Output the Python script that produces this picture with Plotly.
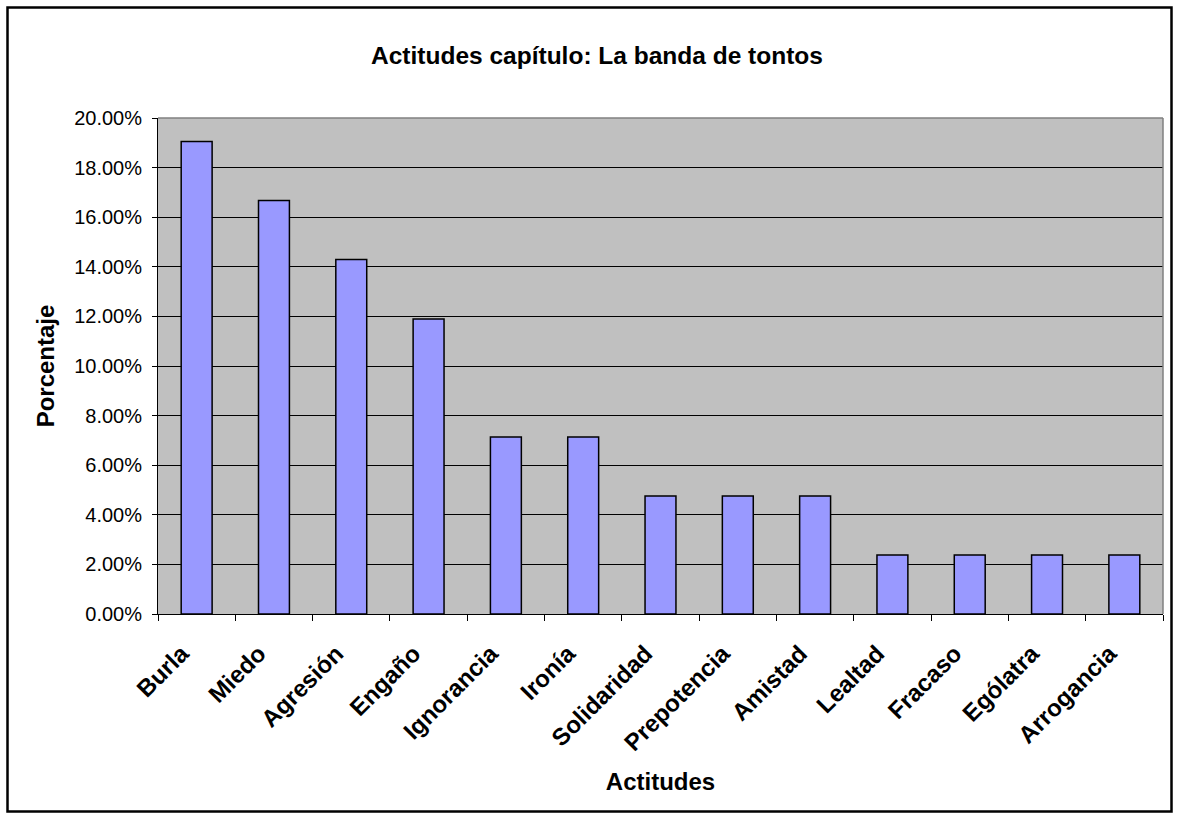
import plotly.graph_objects as go

# Attitude categories and their share of mentions
actitudes = ["Burla", "Miedo", "Agresión", "Engaño", "Ignorancia", "Ironía",
             "Solidaridad", "Prepotencia", "Amistad", "Lealtad", "Fracaso",
             "Ególatra", "Arrogancia"]
porcentajes = [0.1905, 0.1667, 0.1429, 0.1190, 0.0714, 0.0714,
               0.0476, 0.0476, 0.0476, 0.0238, 0.0238, 0.0238, 0.0238]
y_ticks = [0.0, 0.02, 0.04, 0.06, 0.08, 0.10, 0.12, 0.14, 0.16, 0.18, 0.20]

FONT = "Arial, Liberation Sans, sans-serif"

W, H = 1179, 820
L, R, T, B = 158, 16, 118, 206
pw, ph = W - L - R, H - T - B


def px_x(x):
    return (x - L) / pw


def px_y(y):
    return (H - B - y) / ph


fig = go.Figure(
    go.Bar(
        x=actitudes,
        y=porcentajes,
        marker=dict(color="#9999FF", line=dict(color="black", width=1.5)),
        width=0.4,
    )
)

fig.update_layout(
    width=W,
    height=H,
    margin=dict(l=L, r=R, t=T, b=B),
    paper_bgcolor="white",
    plot_bgcolor="#C0C0C0",
    showlegend=False,
    font=dict(family=FONT, color="black"),
    title=dict(
        text="<b>Actitudes capítulo: La banda de tontos</b>",
        x=597 / W,
        xref="container",
        xanchor="center",
        y=1 - 55 / H,
        yref="container",
        yanchor="middle",
        font=dict(size=24.5, family=FONT, color="black"),
    ),
    bargap=0.6,
)

fig.update_xaxes(
    type="category",
    showgrid=False,
    showline=True,
    linecolor="black",
    linewidth=1,
    ticks="outside",
    tickson="boundaries",
    ticklen=6,
    tickcolor="black",
    tickangle=-45,
    ticklabelstandoff=15,
    ticklabelshift=-15,
    tickfont=dict(size=24, family=FONT, color="black", weight="bold"),
    title=dict(text="<b>Actitudes</b>", font=dict(size=24, family=FONT), standoff=18),
)

fig.update_yaxes(
    range=[0, 0.20],
    tickvals=y_ticks,
    tickformat=".2%",
    showgrid=True,
    gridcolor="black",
    gridwidth=1,
    showline=True,
    linecolor="black",
    linewidth=1,
    ticks="outside",
    ticklen=5,
    tickcolor="black",
    ticklabelstandoff=6,
    tickfont=dict(size=20, family=FONT, color="black"),
    zeroline=False,
    title=dict(text="<b>Porcentaje</b>", font=dict(size=24, family=FONT), standoff=12),
)

# Gray frame on top and right of plot area
fig.add_shape(type="line", xref="paper", yref="paper", x0=0, x1=1, y0=1, y1=1,
              line=dict(color="#808080", width=1.5))
fig.add_shape(type="line", xref="paper", yref="paper", x0=1, x1=1, y0=0, y1=1,
              line=dict(color="#808080", width=1.5))

# Outer chart border
fig.add_shape(type="rect", xref="paper", yref="paper",
              x0=px_x(7.5), x1=px_x(1171.5), y0=px_y(811.5), y1=px_y(7.5),
              line=dict(color="black", width=2.5), fillcolor="rgba(0,0,0,0)")

fig.write_html("out.html")
